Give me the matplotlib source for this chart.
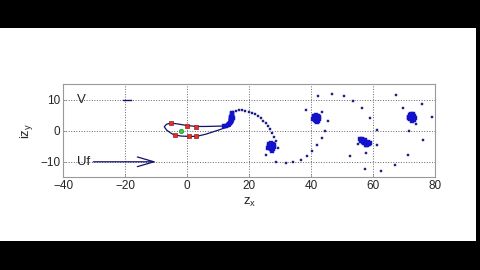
import matplotlib
matplotlib.use("Agg")
import matplotlib.pyplot as plt
from matplotlib.patches import Rectangle

plt.rcParams['font.family'] = ['Liberation Sans', 'DejaVu Sans']

# ---- data ----
x_ticks = [-40, -20, 0, 20, 40, 60, 80]
y_ticks = [-10, 0, 10]

body_x = [13.8, 10.0, 6.0, 3.0, 0.0, -3.0, -5.3, -6.7, -7.4, -6.7, -5.5, -4.3, -2.0, 0.5, 3.0, 6.0, 10.0, 13.8]
body_y = [1.6, 1.5, 1.4, 1.4, 1.7, 2.2, 2.5, 2.1, 1.3, 0.3, -0.6, -1.3, -1.7, -1.8, -1.8, -1.1, 0.2, 1.5]

markers_x = [-5.3, 0.0, 2.9, -4.1, 0.5, 3.0]
markers_y = [2.5, 1.7, 1.3, -1.3, -1.8, -1.8]

centre_x = [-2.0]
centre_y = [0.0]

# sparse wake vortices
wake_x = [
    14.8, 15.6, 16.6, 17.6, 18.7, 19.8, 20.9, 21.9, 23.0, 23.9, 24.6, 25.4, 26.0, 26.8, 27.3, 27.9, 28.8, 29.2, 25.6,
    28.8, 31.8, 34.2, 36.8, 38.6, 40.2, 41.9, 43.4, 44.4, 45.3, 43.4, 38.4,
    42.3, 46.6, 50.5, 53.5, 56.4, 59.0, 61.4, 61.3, 55.0, 52.7, 57.7, 57.5, 62.7,
    67.2, 71.4, 71.7, 76.2, 78.9, 75.9, 69.7, 67.5, 73.8,
]
wake_y = [
    6.2, 6.5, 6.8, 6.8, 6.5, 6.2, 5.9, 5.4, 4.8, 4.1, 3.3, 2.5, 1.6, 0.5, -0.8, -2.0, -3.4, -5.4, -7.7,
    -10.2, -10.5, -10.2, -9.3, -8.1, -6.5, -4.5, -2.4, 0.0, 3.0, 6.2, 6.8,
    11.1, 12.0, 11.1, 9.5, 7.2, 4.1, 0.1, -4.5, -4.2, -8.0, -7.2, -12.3, -12.9,
    -11.0, -7.7, -0.2, -3.0, 4.3, 8.6, 7.3, 11.6, 2.3,
]

# dense vortex clusters
cluster_x = [
    12.0, 12.6, 13.1, 13.6, 14.0, 14.2, 14.3, 14.4, 14.5, 14.6, 13.8, 14.0, 14.1, 14.2, 14.3, 14.5, 13.4, 14.6, 14.7,
    26.5, 27.0, 27.6, 28.0, 26.3, 26.9, 27.5, 28.1, 26.6, 27.2, 27.8, 27.3, 26.8, 27.4, 26.2,
    41.0, 41.5, 42.1, 42.5, 40.8, 41.4, 42.0, 42.6, 41.1, 41.7, 42.3, 41.8, 41.3, 41.9, 40.7,
    55.8, 56.3, 56.6, 56.1, 57.0, 57.4, 57.6, 58.0, 58.4, 58.7, 58.2, 57.7, 57.1, 56.7, 58.9,
    71.8, 72.3, 72.9, 73.3, 71.6, 72.2, 72.8, 73.4, 71.9, 72.5, 73.1, 72.6, 72.1, 72.7, 71.5,
]
cluster_y = [
    1.4, 1.6, 1.9, 2.3, 2.8, 3.3, 3.8, 4.3, 4.8, 5.3, 2.6, 3.1, 3.6, 4.1, 4.6, 5.6, 2.1, 3.5, 4.0,
    -4.3, -4.0, -4.2, -4.6, -5.0, -5.1, -5.0, -5.3, -5.7, -5.8, -5.9, -6.4, -4.6, -4.6, -5.4,
    4.8, 5.1, 4.9, 4.5, 4.1, 4.0, 4.1, 3.8, 3.4, 3.3, 3.2, 2.7, 4.5, 4.5, 3.7,
    -2.7, -2.5, -3.0, -3.3, -3.4, -3.1, -3.8, -4.1, -3.7, -4.4, -4.7, -4.5, -4.0, -3.6, -3.9,
    5.2, 5.5, 5.3, 4.9, 4.5, 4.4, 4.5, 4.2, 3.8, 3.7, 3.6, 3.1, 4.9, 4.9, 4.1,
]

uf_start = (-30.3, -10.0)
uf_end = (-10.0, -10.0)
v_x = [-20.6, -18.0]
v_y = [10.0, 10.0]

# ---- figure ----
fig = plt.figure(figsize=(4.8, 2.7), dpi=100)
fig.patch.set_facecolor('black')
fig.patches.append(Rectangle((0, 29/270), 476/480, (241-28)/270, transform=fig.transFigure,
                             facecolor='white', edgecolor='none', zorder=-10))

ax = fig.add_axes([63.3/480, 92.7/270, 371.7/480, 93.0/270])
ax.set_zorder(5)
ax.set_xlim(-40, 80)
ax.set_ylim(-15, 15)
ax.set_xticks(x_ticks)
ax.set_yticks(y_ticks)
ax.grid(True, linestyle=':', color='#666666', linewidth=0.7)
ax.tick_params(direction='in', length=2.5, width=0.5, colors='#888888', labelcolor='#262626', labelsize=8.5, pad=2)
for s in ax.spines.values():
    s.set_color('#999999')
    s.set_linewidth(0.8)

ax.plot(body_x, body_y, color='#10106e', linewidth=0.9, zorder=3)
ax.plot(wake_x, wake_y, linestyle='none', marker='s', markersize=1.7, color='#202090',
        markeredgewidth=0.3, markeredgecolor='#202080', zorder=4)
ax.plot(cluster_x, cluster_y, linestyle='none', marker='s', markersize=2.2, color='#1010d8',
        markeredgewidth=0.3, markeredgecolor='#1818b0', zorder=4)
ax.plot(markers_x, markers_y, linestyle='none', marker='s', markersize=3.2, color='#e03030',
        markeredgecolor='#a01818', markeredgewidth=0.5, zorder=5)
ax.plot(centre_x, centre_y, linestyle='none', marker='o', markersize=3.2, color='#30d040',
        markeredgecolor='#209030', markeredgewidth=0.5, zorder=5)

ax.plot(v_x, v_y, color='#10106e', linewidth=1.0, zorder=3)
ax.annotate('', xy=uf_end, xytext=uf_start,
            arrowprops=dict(arrowstyle='->,head_length=1.2,head_width=0.35',
                            color='#10106e', linewidth=0.9, shrinkA=0, shrinkB=0, mutation_scale=10))

ax.text(-35.5, 10, 'V', fontsize=9.5, color='#262626', va='center', ha='left')
ax.text(-35.5, -10, 'Uf', fontsize=9.5, color='#262626', va='center', ha='left')

ax.set_xlabel(r'z$_\mathregular{x}$', fontsize=9.5, color='#262626', labelpad=3)
ax.set_ylabel(r'iz$_\mathregular{y}$', fontsize=9.5, color='#262626', labelpad=4)

fig.savefig('out.png', dpi=100, facecolor=fig.get_facecolor())
